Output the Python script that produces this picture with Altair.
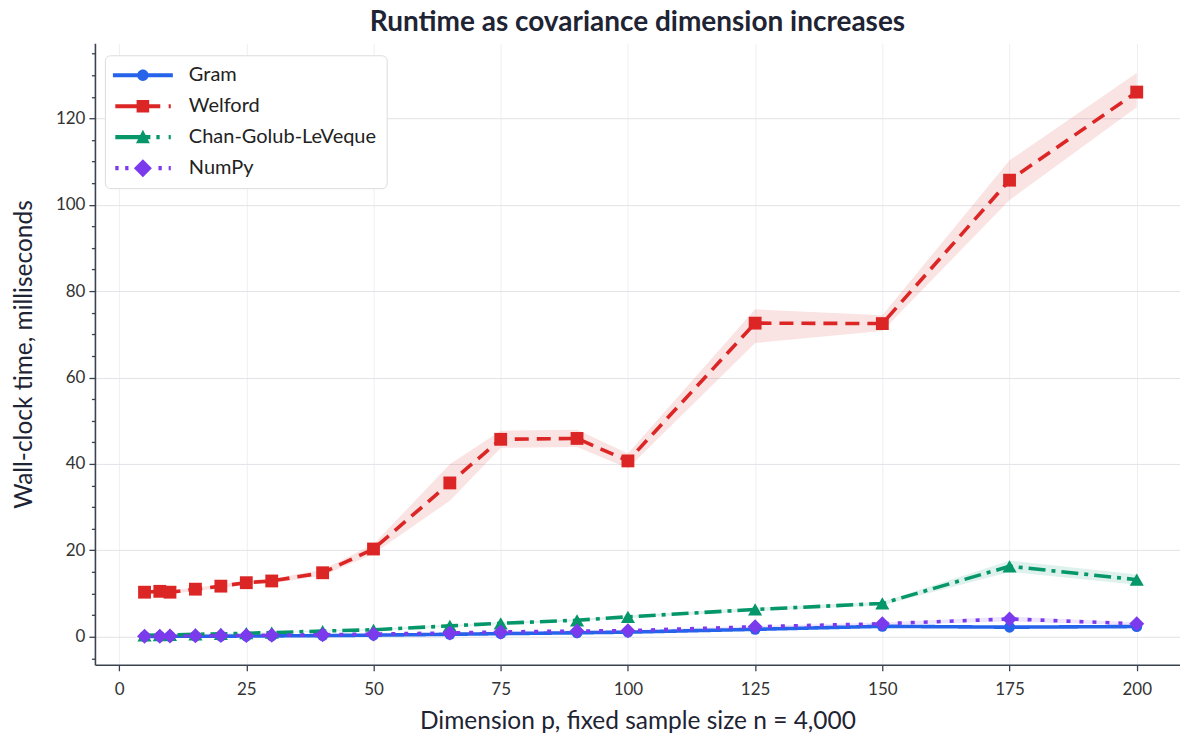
import altair as alt
import pandas as pd

p = [5, 8, 10, 15, 20, 25, 30, 40, 50, 65, 75, 90, 100, 125, 150, 175, 200]
series_names = ["Gram", "Welford", "Chan-Golub-LeVeque", "NumPy"]
colors = ["#2563eb", "#dc2626", "#059669", "#7c3aed"]

gram = [0.05, 0.07, 0.08, 0.10, 0.12, 0.15, 0.18, 0.25, 0.35, 0.55, 0.70, 0.90, 1.05, 1.70, 2.40, 2.20, 2.35]
gram_lo = [0.03, 0.05, 0.06, 0.08, 0.10, 0.12, 0.15, 0.21, 0.30, 0.48, 0.62, 0.80, 0.95, 1.55, 2.20, 2.00, 2.15]
gram_hi = [0.07, 0.09, 0.10, 0.12, 0.14, 0.18, 0.21, 0.29, 0.40, 0.62, 0.78, 1.00, 1.15, 1.85, 2.60, 2.40, 2.55]

welford = [10.3, 10.5, 10.3, 11.0, 11.7, 12.5, 12.9, 14.8, 20.3, 35.6, 45.7, 45.9, 40.7, 72.6, 72.5, 105.7, 126.1]
welford_lo = [9.9, 10.1, 9.9, 10.6, 11.3, 12.0, 12.4, 14.1, 19.2, 31.5, 43.7, 43.9, 39.0, 68.0, 70.8, 101.1, 122.6]
welford_hi = [10.7, 10.9, 10.7, 11.4, 12.1, 13.0, 13.4, 15.5, 21.4, 39.9, 47.7, 47.9, 42.4, 75.8, 74.4, 110.3, 130.5]

chan = [0.30, 0.35, 0.40, 0.55, 0.65, 0.80, 0.95, 1.30, 1.60, 2.50, 3.10, 3.80, 4.60, 6.30, 7.70, 16.3, 13.2]
chan_lo = [0.20, 0.25, 0.30, 0.45, 0.55, 0.70, 0.85, 1.15, 1.45, 2.30, 2.85, 3.55, 4.30, 5.90, 7.30, 15.0, 12.0]
chan_hi = [0.40, 0.45, 0.50, 0.65, 0.75, 0.90, 1.05, 1.45, 1.75, 2.70, 3.35, 4.05, 4.90, 6.70, 8.10, 17.6, 14.4]

numpy_ms = [0.10, 0.12, 0.13, 0.20, 0.25, 0.30, 0.35, 0.45, 0.60, 0.85, 1.10, 1.30, 1.40, 2.30, 3.00, 4.10, 3.00]
numpy_lo = [0.05, 0.07, 0.08, 0.14, 0.19, 0.24, 0.28, 0.37, 0.50, 0.72, 0.95, 1.15, 1.25, 2.10, 2.70, 3.50, 2.70]
numpy_hi = [0.15, 0.17, 0.18, 0.26, 0.31, 0.36, 0.42, 0.53, 0.70, 0.98, 1.25, 1.45, 1.55, 2.50, 3.30, 4.70, 3.30]

x_ticks = [0, 25, 50, 75, 100, 125, 150, 175, 200]
y_ticks_minor = list(range(-5, 140, 5))

rows = []
for name, vals, lo, hi in [
    ("Gram", gram, gram_lo, gram_hi),
    ("Welford", welford, welford_lo, welford_hi),
    ("Chan-Golub-LeVeque", chan, chan_lo, chan_hi),
    ("NumPy", numpy_ms, numpy_lo, numpy_hi),
]:
    for i in range(len(p)):
        rows.append({"p": p[i], "series": name, "ms": vals[i], "lo": lo[i], "hi": hi[i]})
df = pd.DataFrame(rows)

FONT = "Lato"
AXIS_COLOR = "#3b4250"

x_scale = alt.Scale(domain=[-4.75, 208.5], nice=False, zero=False)
y_scale = alt.Scale(domain=[-6.5, 137.4], nice=False, zero=False)

x_axis = alt.Axis(
    values=x_ticks,
    title="Dimension p, fixed sample size n = 4,000",
    grid=True,
    gridColor="#efeff2",
    tickSize=6,
    labelPadding=11,
    titlePadding=12,
)
y_axis = alt.Axis(
    values=y_ticks_minor,
    labelExpr="datum.value % 20 === 0 ? datum.label : ''",
    tickSize={"condition": {"test": "datum.value % 20 === 0", "value": 6}, "value": 3.5},
    gridOpacity={"condition": {"test": "datum.value % 20 === 0", "value": 1}, "value": 0},
    grid=True,
    gridColor="#e3e3e7",
    title="Wall-clock time, milliseconds",
    labelPadding=4,
    titlePadding=19,
)

X = alt.X("p:Q", scale=x_scale, axis=x_axis)
Y = alt.Y("ms:Q", scale=y_scale, axis=y_axis)

color_scale = alt.Scale(domain=series_names, range=colors)

styles = {
    "Gram": {"dash": [1, 0], "shape": "circle", "size": 120},
    "Welford": {"dash": [14, 8], "shape": "square", "size": 165},
    "Chan-Golub-LeVeque": {"dash": [17, 6, 4, 6], "shape": "triangle-up", "size": 200},
    "NumPy": {"dash": [4, 9], "shape": "diamond", "size": 225},
}

legend_paths = [
    "M-3,-0.21H-0.51V0.21H-3Z M0.51,-0.21H3V0.21H0.51Z M-0.57,0A0.57,0.57 0 1,1 0.57,0A0.57,0.57 0 1,1 -0.57,0Z",
    "M-2.76,-0.21H-0.63V0.21H-2.76Z M-0.63,-0.63H0.63V0.63H-0.63Z M0.63,-0.21H1.74V0.21H0.63Z M2.58,-0.21H2.79V0.21H2.58Z",
    "M-2.76,-0.21H0.75V0.21H-2.76Z M0,-0.75L0.69,0.6L-0.69,0.6Z M1.35,-0.21H1.68V0.21H1.35Z M2.58,-0.21H2.79V0.21H2.58Z",
    "M-2.76,-0.21H-2.43V0.21H-2.76Z M-1.77,-0.21H-1.44V0.21H-1.77Z M0,-0.9L0.9,0L0,0.9L-0.9,0Z M1.56,-0.21H1.89V0.21H1.56Z M2.58,-0.21H2.79V0.21H2.58Z",
]

base = alt.Chart(df)
layers = []
for name, col in zip(series_names, colors):
    st = styles[name]
    sub = base.transform_filter(alt.datum.series == name)
    band = sub.mark_area(opacity=0.13, color=col, interpolate="linear").encode(
        x=X, y=alt.Y("lo:Q", scale=y_scale, axis=y_axis), y2="hi:Q"
    )
    line = sub.mark_line(
        color=col, strokeWidth=3.6, strokeDash=st["dash"], strokeJoin="round", strokeCap="butt"
    ).encode(x=X, y=Y)
    pts = sub.mark_point(
        shape=st["shape"], size=st["size"], filled=True, opacity=1, color=col
    ).encode(x=X, y=Y)
    layers += [band, line, pts]

leg = alt.Legend(
    title=None,
    orient="none",
    legendX=10,
    legendY=12,
    symbolSize=400,
    symbolOffset=18,
    symbolStrokeWidth=0,
    symbolOpacity=1,
    labelFont=FONT,
    labelFontSize=20,
    labelColor="#222222",
    labelOffset=36,
    labelLimit=400,
    rowPadding=11,
    padding=10,
    strokeColor="#dcdcdf",
    fillColor="#ffffff",
    cornerRadius=5,
)

legend_layer = base.transform_filter("datum.p < 0").mark_point(filled=True, opacity=1).encode(
    x=X,
    y=Y,
    color=alt.Color("series:N", scale=color_scale, legend=leg),
    shape=alt.Shape("series:N", scale=alt.Scale(domain=series_names, range=legend_paths), legend=leg),
)
layers.append(legend_layer)

chart = alt.layer(*layers).properties(
    width=1086,
    height=622,
    autosize=alt.AutoSizeParams(type="none"),
    padding={"left": 87, "top": 35, "right": 0, "bottom": 72},
    title=alt.TitleParams(
        "Runtime as covariance dimension increases",
        font=FONT,
        fontSize=28,
        fontWeight="bold",
        color="#1e2433",
        anchor="middle",
        offset=6,
    ),
).configure(background="#ffffff").configure_view(stroke=None).configure_axis(
    labelFont=FONT,
    labelFontSize=17,
    labelColor="#333333",
    titleFont=FONT,
    titleFontSize=24.5,
    titleFontWeight="normal",
    titleColor="#1e2433",
    domainColor=AXIS_COLOR,
    domainWidth=1.6,
    tickColor=AXIS_COLOR,
    tickWidth=1.3,
    gridWidth=1,
)

chart.save("out.html", embed_options={"renderer": "svg", "actions": False})
